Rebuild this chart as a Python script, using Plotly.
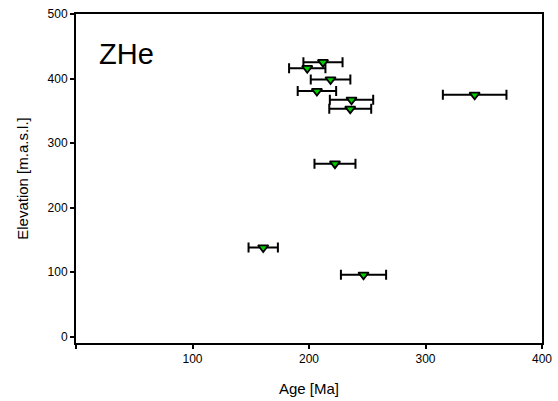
import plotly.graph_objects as go

age = [212.0, 198.5, 218.5, 206.8, 236.5, 235.4, 342.2, 222.3, 160.7, 246.8]
age_err = [16.8, 15.6, 17.0, 16.5, 18.6, 18.0, 27.3, 17.6, 12.6, 19.4]
elevation = [425.3, 416.0, 398.4, 380.5, 367.0, 353.0, 374.7, 268.0, 138.0, 95.7]

x_ticks = [0, 100, 200, 300, 400]
x_ticktext = ["", "100", "200", "300", "400"]
y_ticks = [0, 100, 200, 300, 400, 500]

FONT = "Liberation Sans, Arial"

fig = go.Figure()
fig.add_trace(go.Scatter(
    x=age, y=elevation, mode="markers",
    error_x=dict(type="data", array=age_err, visible=True,
                 color="black", thickness=2, width=5),
    marker=dict(symbol="triangle-down", size=9, color="#00d000",
                line=dict(color="black", width=1.8)),
    showlegend=False,
))

axis_common = dict(showline=True, linecolor="black", linewidth=2, mirror=True,
                   ticks="outside", ticklen=4, tickwidth=2, tickcolor="black",
                   showgrid=False, zeroline=False,
                   tickfont=dict(family=FONT, size=12, color="black"))

fig.update_layout(
    width=558, height=401,
    margin=dict(l=76, r=16, t=14, b=58, autoexpand=False),
    plot_bgcolor="white", paper_bgcolor="white",
    xaxis=dict(range=[0, 400], tickvals=x_ticks, ticktext=x_ticktext,
               title=dict(text="Age [Ma]", font=dict(family=FONT, size=15, color="black"),
                          standoff=18),
               **axis_common),
    yaxis=dict(range=[-10, 500], tickvals=y_ticks,
               title=dict(text="Elevation [m.a.s.l.]", font=dict(family=FONT, size=15, color="black"),
                          standoff=15),
               **axis_common),
    annotations=[dict(text="ZHe", x=0.045, y=0.878, xref="paper", yref="paper",
                      xanchor="left", yanchor="middle", showarrow=False,
                      font=dict(family=FONT, size=29, color="black"))],
)

fig.write_html("out.html", config={"displayModeBar": False},
               post_script="document.body.style.margin='0';")
